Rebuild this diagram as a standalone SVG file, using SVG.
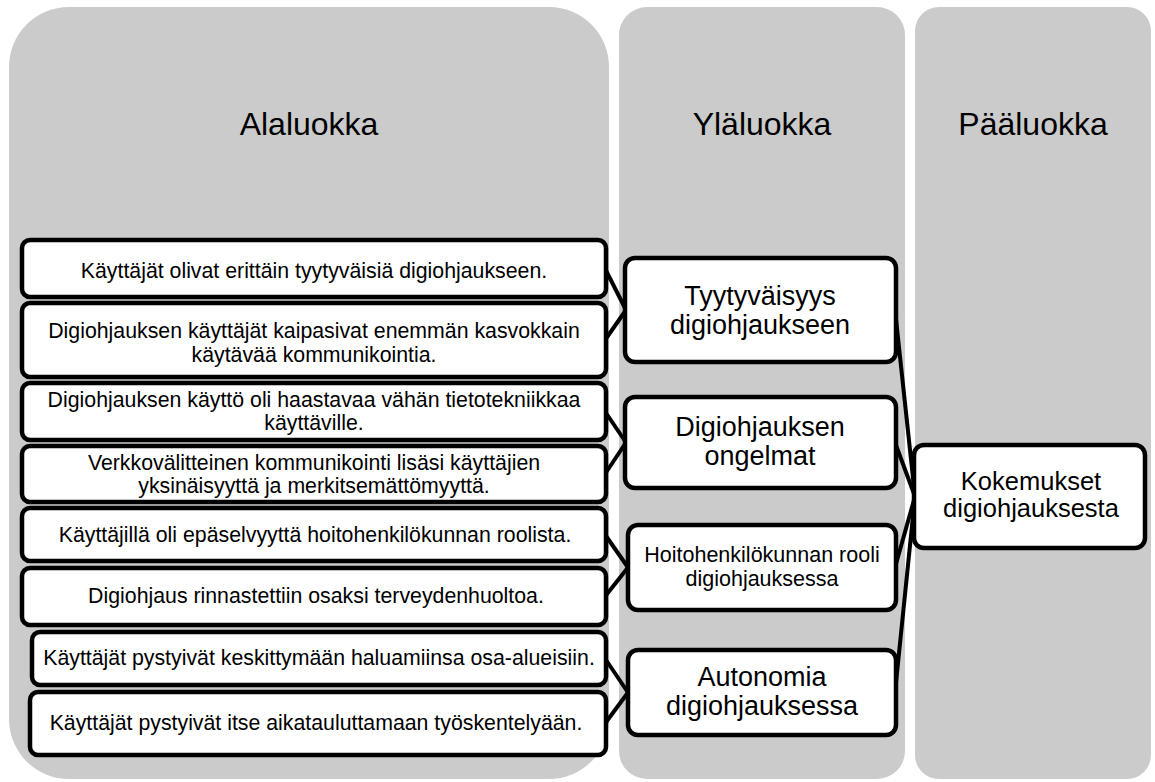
<svg xmlns="http://www.w3.org/2000/svg" width="1155" height="782" viewBox="0 0 1155 782">
<style>
.col{fill:#cbcbcb;stroke:none}
.box{fill:#ffffff;stroke:#000000;stroke-width:4.5}
.hdr{font-family:"Liberation Sans",Arial,sans-serif;font-size:32px;fill:#000;text-anchor:middle}
.t1{font-family:"Liberation Sans",Arial,sans-serif;font-size:21.3px;fill:#000;text-anchor:middle}
.t2{font-family:"Liberation Sans",Arial,sans-serif;font-size:27px;fill:#000;text-anchor:middle}
.t3{font-family:"Liberation Sans",Arial,sans-serif;font-size:21.5px;fill:#000;text-anchor:middle}
.t4{font-family:"Liberation Sans",Arial,sans-serif;font-size:25.5px;fill:#000;text-anchor:middle}
.con{stroke:#000;stroke-width:4;fill:none}
</style>
<g id="columns">
<g id="col-alaluokka"><rect class="col" x="9" y="7" width="600" height="772" rx="60" ry="60"/><text class="hdr" x="309" y="135">Alaluokka</text></g>
<g id="col-ylaluokka"><rect class="col" x="619" y="7" width="286" height="772" rx="28" ry="28"/><text class="hdr" x="762" y="135">Yläluokka</text></g>
<g id="col-paaluokka"><rect class="col" x="915" y="7" width="236" height="772" rx="24" ry="24"/><text class="hdr" x="1033" y="135">Pääluokka</text></g>
</g>
<g id="connectors">
<line class="con" x1="605" y1="268.5" x2="626" y2="310"/>
<line class="con" x1="605" y1="340" x2="626" y2="310"/>
<line class="con" x1="605" y1="411.5" x2="626" y2="442.5"/>
<line class="con" x1="605" y1="474" x2="626" y2="442.5"/>
<line class="con" x1="605" y1="534.5" x2="628" y2="567.5"/>
<line class="con" x1="605" y1="596.5" x2="628" y2="567.5"/>
<line class="con" x1="605" y1="658.5" x2="628" y2="692.5"/>
<line class="con" x1="605" y1="723.5" x2="628" y2="692.5"/>
<line class="con" x1="895" y1="310" x2="915" y2="496.5"/>
<line class="con" x1="895" y1="442.5" x2="915" y2="496.5"/>
<line class="con" x1="895" y1="567.5" x2="915" y2="496.5"/>
<line class="con" x1="895" y1="692.5" x2="915" y2="496.5"/>
</g>
<g id="sub1"><rect class="box" x="22" y="240" width="584" height="57" rx="8"/><text class="t1" x="314" y="278">Käyttäjät olivat erittäin tyytyväisiä digiohjaukseen.</text></g>
<g id="sub2"><rect class="box" x="22" y="303" width="584" height="74" rx="8"/><text class="t1" x="314" y="338">Digiohjauksen käyttäjät kaipasivat enemmän kasvokkain<tspan x="314" dy="24">käytävää kommunikointia.</tspan></text></g>
<g id="sub3"><rect class="box" x="22" y="383" width="584" height="57" rx="8"/><text class="t1" x="314" y="407">Digiohjauksen käyttö oli haastavaa vähän tietotekniikkaa<tspan x="314" dy="23">käyttäville.</tspan></text></g>
<g id="sub4"><rect class="box" x="22" y="446" width="584" height="56" rx="8"/><text class="t1" x="314" y="470">Verkkovälitteinen kommunikointi lisäsi käyttäjien<tspan x="314" dy="23">yksinäisyyttä ja merkitsemättömyyttä.</tspan></text></g>
<g id="sub5"><rect class="box" x="22" y="508" width="584" height="53" rx="8"/><text class="t1" x="315" y="542">Käyttäjillä oli epäselvyyttä hoitohenkilökunnan roolista.</text></g>
<g id="sub6"><rect class="box" x="22" y="568" width="584" height="57" rx="8"/><text class="t1" x="316" y="603">Digiohjaus rinnastettiin osaksi terveydenhuoltoa.</text></g>
<g id="sub7"><rect class="box" x="32" y="632" width="574" height="53" rx="8"/><text class="t1" x="319" y="665">Käyttäjät pystyivät keskittymään haluamiinsa osa-alueisiin.</text></g>
<g id="sub8"><rect class="box" x="30" y="692" width="576" height="63" rx="8"/><text class="t1" x="316" y="730">Käyttäjät pystyivät itse aikatauluttamaan työskentelyään.</text></g>
<g id="up1"><rect class="box" x="625" y="258" width="271" height="104" rx="10"/><text class="t2" x="760" y="305">Tyytyväisyys<tspan x="760" dy="28.5">digiohjaukseen</tspan></text></g>
<g id="up2"><rect class="box" x="625" y="397" width="271" height="91" rx="10"/><text class="t2" x="760" y="436">Digiohjauksen<tspan x="760" dy="28.5">ongelmat</tspan></text></g>
<g id="up3"><rect class="box" x="628" y="525" width="268" height="85" rx="10"/><text class="t3" x="762" y="562">Hoitohenkilökunnan rooli<tspan x="762" dy="23.5">digiohjauksessa</tspan></text></g>
<g id="up4"><rect class="box" x="628" y="650" width="268" height="85" rx="10"/><text class="t2" x="762" y="686">Autonomia<tspan x="762" dy="28.5">digiohjauksessa</tspan></text></g>
<g id="main"><rect class="box" x="914" y="445" width="231" height="103" rx="10"/><text class="t4" x="1031" y="490">Kokemukset<tspan x="1031" dy="27">digiohjauksesta</tspan></text></g>
</svg>
